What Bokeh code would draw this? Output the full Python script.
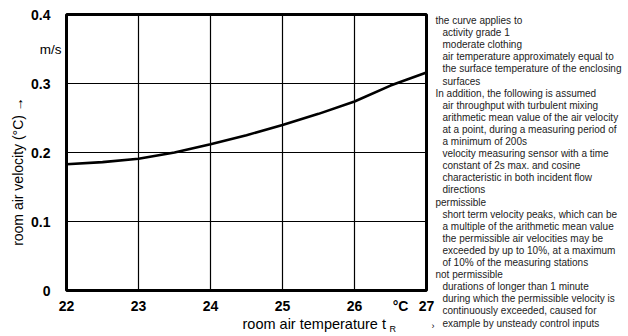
import math
from bokeh.plotting import figure
from bokeh.models import FixedTicker, Range1d, LinearAxis, BoxAnnotation
from bokeh.core.properties import value
from bokeh.embed import file_html
from bokeh.resources import INLINE

# ---- data ----
temps = [22, 22.5, 23, 23.5, 24, 24.5, 25, 25.5, 26, 26.5, 27]
velocity = [0.183, 0.186, 0.191, 0.200, 0.212, 0.225, 0.240, 0.256, 0.274, 0.297, 0.316]
x_ticks = [22, 23, 24, 25, 26, 27]
y_ticks = [0, 0.1, 0.2, 0.3, 0.4]
y_tick_labels = {0: "0", 0.1: "0.1", 0.2: "0.2", 0.3: "0.3", 0.4: "0.4"}
y_unit = "m/s"
x_unit = "°C"
y_title = "room air velocity (°C) →"
x_title = "room air temperature t"
x_title_sub = "R"
notes = [
    (0, "the curve applies to"),
    (1, "activity grade 1"),
    (1, "moderate clothing"),
    (1, "air temperature approximately equal to"),
    (1, "the surface temperature of the enclosing"),
    (1, "surfaces"),
    (0, "In addition, the following is assumed"),
    (1, "air throughput with turbulent mixing"),
    (1, "arithmetic mean value of the air velocity"),
    (1, "at a point, during a measuring period of"),
    (1, "a minimum of 200s"),
    (1, "velocity measuring sensor with a time"),
    (1, "constant of 2s max. and cosine"),
    (1, "characteristic in both incident flow"),
    (1, "directions"),
    (0, "permissible"),
    (1, "short term velocity peaks, which can be"),
    (1, "a multiple of the arithmetic mean value"),
    (1, "the permissible air velocities may be"),
    (1, "exceeded by up to 10%, at a maximum"),
    (1, "of 10% of the measuring stations"),
    (0, "not permissible"),
    (1, "durations of longer than 1 minute"),
    (1, "during which the permissible velocity is"),
    (1, "continuously exceeded, caused for"),
    (1, "example by unsteady control inputs"),
]

FONT = "Liberation Sans"
W, H = 628, 336
# chart box placement on the canvas (pixels)
BOX_L, BOX_R, BOX_T, BOX_B = 66, 426, 14, 290
x0, x1 = x_ticks[0], x_ticks[-1]
y0, y1 = y_ticks[0], y_ticks[-1]
kx = (BOX_R - BOX_L) / (x1 - x0)
ky = (BOX_B - BOX_T) / (y1 - y0)


def dx(px):
    return x0 + (px - BOX_L) / kx


def dy(py):
    return y0 + (BOX_B - py) / ky


p = figure(width=W, height=H, output_backend="svg", toolbar_location=None,
           x_range=Range1d(dx(0), dx(W)), y_range=Range1d(dy(H), dy(0)),
           x_axis_location=None, y_axis_location=None,
           min_border=0, min_border_left=0, min_border_right=0,
           min_border_top=0, min_border_bottom=0)
p.background_fill_color = "white"
p.border_fill_color = "white"
p.outline_line_color = None
p.grid.visible = False

# grid lines inside the chart box
inner_x = x_ticks[1:-1]
inner_y = y_ticks[1:-1]
p.segment(x0=inner_x, y0=[y0] * len(inner_x), x1=inner_x, y1=[y1] * len(inner_x),
          line_color="black", line_width=1.2)
p.segment(x0=[x0] * len(inner_y), y0=inner_y, x1=[x1] * len(inner_y), y1=inner_y,
          line_color="black", line_width=1.2)

# the curve
p.line(temps, velocity, line_color="black", line_width=2.6)

# chart frame
p.add_layout(BoxAnnotation(left=x0, right=x1, bottom=y0, top=y1, fill_alpha=0,
                           line_color="black", line_width=3, line_alpha=1))

# axes fixed to the chart box
xax = LinearAxis(fixed_location=y0, ticker=FixedTicker(ticks=x_ticks))
yax = LinearAxis(fixed_location=x0, ticker=FixedTicker(ticks=y_ticks),
                 major_label_overrides=y_tick_labels)
for ax in (xax, yax):
    ax.axis_line_color = None
    ax.major_tick_line_color = None
    ax.minor_tick_line_color = None
    ax.major_label_text_font = FONT
    ax.major_label_text_font_style = "bold"
    ax.major_label_text_font_size = "14px"
    ax.major_label_text_color = "black"
xax.major_label_standoff = 4
yax.major_label_standoff = 10
p.add_layout(xax, "below")
p.add_layout(yax, "left")

# unit labels
p.text(x=[dx(61)], y=[dy(49)], text=[y_unit], text_align="right", text_baseline="middle",
       text_font=value(FONT), text_font_size="13.5px", text_color="black")
p.text(x=[dx(400)], y=[dy(305)], text=[x_unit], text_align="center", text_baseline="middle",
       text_font=value(FONT), text_font_size="14px", text_font_style="bold",
       text_color="black")

# axis titles
p.text(x=[dx(17)], y=[dy(171)], text=[y_title], angle=math.pi / 2,
       text_align="center", text_baseline="middle",
       text_font=value(FONT), text_font_size="14px", text_color="black")
p.text(x=[dx(242)], y=[dy(323)], text=[x_title], text_align="left", text_baseline="middle",
       text_font=value(FONT), text_font_size="14.5px", text_color="black")
p.text(x=[dx(389)], y=[dy(328)], text=[x_title_sub], text_align="left",
       text_baseline="middle", text_font=value(FONT), text_font_size="9px",
       text_color="black")
p.text(x=[dx(431)], y=[dy(325)], text=["›"], text_align="left", text_baseline="middle",
       text_font=value(FONT), text_font_size="9px", text_color="black")

# notes on the right
note_x = [dx(435 + 7 * ind) for ind, _ in notes]
note_y = [dy(20 + 12.1 * i) for i in range(len(notes))]
p.text(x=note_x, y=note_y, text=[t for _, t in notes], text_align="left",
       text_baseline="middle", text_font=value(FONT), text_font_size="10px",
       text_color="#222222")

open("out.html", "w").write(file_html(p, INLINE))
